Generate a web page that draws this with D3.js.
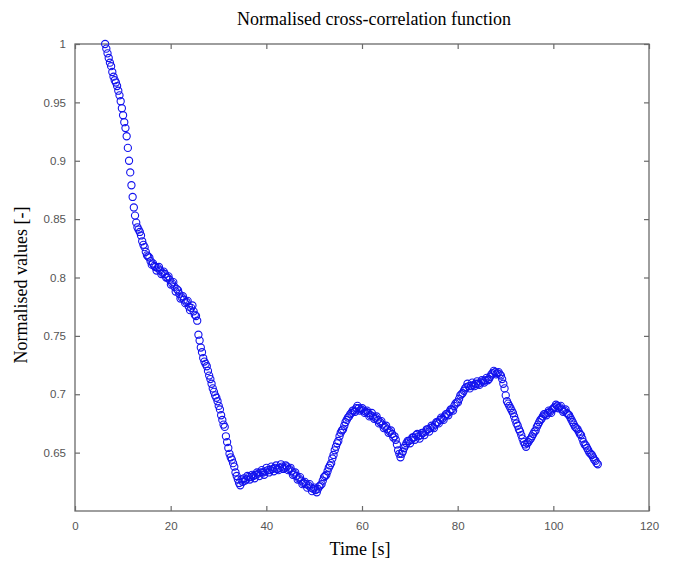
<!DOCTYPE html>
<html>
<head>
<meta charset="utf-8">
<script src="https://cdn.jsdelivr.net/npm/d3@7"></script>
<style>
  html, body { margin: 0; padding: 0; background: #ffffff; }
  svg { display: block; }
</style>
</head>
<body>
<svg id="chart" width="673" height="563"></svg>
<script>
// ---- data ----
const titleText = "Normalised cross-correlation function";
const xLabel = "Time [s]";
const yLabel = "Normalised values [-]";
const xTicks = [0, 20, 40, 60, 80, 100, 120];
const yTicks = [0.65, 0.7, 0.75, 0.8, 0.85, 0.9, 0.95, 1];

const times = [
  6.3, 6.8, 7.3, 7.8, 8.3, 8.8, 9.3, 9.8, 10.3, 10.8,
  11.3, 11.8, 12.3, 12.8, 13.3, 13.8, 14.3, 14.8, 15.3, 15.8,
  16.3, 16.8, 17.3, 17.8, 18.3, 18.8, 19.3, 19.8, 20.3, 20.8,
  21.3, 21.8, 22.3, 22.8, 23.3, 23.8, 24.3, 24.8, 25.3, 25.8,
  26.3, 26.8, 27.3, 27.8, 28.3, 28.8, 29.3, 29.8, 30.3, 30.8,
  31.3, 31.8, 32.3, 32.8, 33.3, 33.8, 34.3, 34.8, 35.3, 35.8,
  36.3, 36.8, 37.3, 37.8, 38.3, 38.8, 39.3, 39.8, 40.3, 40.8,
  41.3, 41.8, 42.3, 42.8, 43.3, 43.8, 44.3, 44.8, 45.3, 45.8,
  46.3, 46.8, 47.3, 47.8, 48.3, 48.8, 49.3, 49.8, 50.3, 50.8,
  51.3, 51.8, 52.3, 52.8, 53.3, 53.8, 54.3, 54.8, 55.3, 55.8,
  56.3, 56.8, 57.3, 57.8, 58.3, 58.8, 59.3, 59.8, 60.3, 60.8,
  61.3, 61.8, 62.3, 62.8, 63.3, 63.8, 64.3, 64.8, 65.3, 65.8,
  66.3, 66.8, 67.3, 67.8, 68.3, 68.8, 69.3, 69.8, 70.3, 70.8,
  71.3, 71.8, 72.3, 72.8, 73.3, 73.8, 74.3, 74.8, 75.3, 75.8,
  76.3, 76.8, 77.3, 77.8, 78.3, 78.8, 79.3, 79.8, 80.3, 80.8,
  81.3, 81.8, 82.3, 82.8, 83.3, 83.8, 84.3, 84.8, 85.3, 85.8,
  86.3, 86.8, 87.3, 87.8, 88.3, 88.8, 89.3, 89.8, 90.3, 90.8,
  91.3, 91.8, 92.3, 92.8, 93.3, 93.8, 94.3, 94.8, 95.3, 95.8,
  96.3, 96.8, 97.3, 97.8, 98.3, 98.8, 99.3, 99.8, 100.3, 100.8,
  101.3, 101.8, 102.3, 102.8, 103.3, 103.8, 104.3, 104.8, 105.3, 105.8,
  106.3, 106.8, 107.3, 107.8, 108.3, 108.8, 109.3
];

const values = [
  1.000, 0.992, 0.984, 0.976, 0.969, 0.964, 0.956, 0.945, 0.933, 0.921,
  0.900, 0.879, 0.860, 0.847, 0.841, 0.836, 0.828, 0.822, 0.818, 0.814,
  0.812, 0.809, 0.808, 0.806, 0.804, 0.803, 0.800, 0.798, 0.795, 0.792,
  0.790, 0.786, 0.783, 0.781, 0.779, 0.775, 0.774, 0.771, 0.767, 0.751,
  0.740, 0.731, 0.726, 0.720, 0.713, 0.705, 0.699, 0.694, 0.687, 0.678,
  0.672, 0.659, 0.649, 0.644, 0.638, 0.630, 0.624, 0.627, 0.628, 0.627,
  0.629, 0.629, 0.630, 0.631, 0.632, 0.633, 0.633, 0.634, 0.635, 0.635,
  0.636, 0.637, 0.636, 0.637, 0.638, 0.637, 0.638, 0.636, 0.634, 0.632,
  0.630, 0.628, 0.626, 0.624, 0.623, 0.622, 0.620, 0.619, 0.618, 0.619,
  0.622, 0.626, 0.630, 0.634, 0.639, 0.645, 0.652, 0.658, 0.664, 0.669,
  0.673, 0.678, 0.681, 0.684, 0.686, 0.688, 0.688, 0.687, 0.686, 0.685,
  0.684, 0.682, 0.681, 0.680, 0.678, 0.676, 0.674, 0.672, 0.670, 0.668,
  0.666, 0.664, 0.657, 0.649, 0.649, 0.654, 0.658, 0.660, 0.661, 0.663,
  0.665, 0.664, 0.665, 0.667, 0.668, 0.670, 0.671, 0.672, 0.674, 0.676,
  0.678, 0.679, 0.681, 0.683, 0.685, 0.687, 0.690, 0.693, 0.696, 0.700,
  0.703, 0.706, 0.707, 0.707, 0.708, 0.709, 0.709, 0.710, 0.711, 0.712,
  0.712, 0.715, 0.718, 0.719, 0.718, 0.717, 0.713, 0.705, 0.694, 0.690,
  0.686, 0.681, 0.675, 0.670, 0.665, 0.659, 0.655, 0.659, 0.662, 0.666,
  0.669, 0.674, 0.678, 0.681, 0.683, 0.684, 0.685, 0.687, 0.689, 0.690,
  0.689, 0.687, 0.686, 0.684, 0.682, 0.678, 0.674, 0.671, 0.668, 0.665,
  0.659, 0.656, 0.652, 0.649, 0.646, 0.643, 0.640
];

// in-between samples (the band in the picture is two markers thick)
const times2 = [
  6.55, 7.05, 7.55, 8.05, 8.55, 9.05, 9.55, 10.05, 10.55, 11.05,
  11.55, 12.05, 12.55, 13.05, 13.55, 14.05, 14.55, 15.05, 15.55, 16.05,
  16.55, 17.05, 17.55, 18.05, 18.55, 19.05, 19.55, 20.05, 20.55, 21.05,
  21.55, 22.05, 22.55, 23.05, 23.55, 24.05, 24.55, 25.05, 25.55, 26.05,
  26.55, 27.05, 27.55, 28.05, 28.55, 29.05, 29.55, 30.05, 30.55, 31.05,
  31.55, 32.05, 32.55, 33.05, 33.55, 34.05, 34.55, 35.05, 35.55, 36.05,
  36.55, 37.05, 37.55, 38.05, 38.55, 39.05, 39.55, 40.05, 40.55, 41.05,
  41.55, 42.05, 42.55, 43.05, 43.55, 44.05, 44.55, 45.05, 45.55, 46.05,
  46.55, 47.05, 47.55, 48.05, 48.55, 49.05, 49.55, 50.05, 50.55, 51.05,
  51.55, 52.05, 52.55, 53.05, 53.55, 54.05, 54.55, 55.05, 55.55, 56.05,
  56.55, 57.05, 57.55, 58.05, 58.55, 59.05, 59.55, 60.05, 60.55, 61.05,
  61.55, 62.05, 62.55, 63.05, 63.55, 64.05, 64.55, 65.05, 65.55, 66.05,
  66.55, 67.05, 67.55, 68.05, 68.55, 69.05, 69.55, 70.05, 70.55, 71.05,
  71.55, 72.05, 72.55, 73.05, 73.55, 74.05, 74.55, 75.05, 75.55, 76.05,
  76.55, 77.05, 77.55, 78.05, 78.55, 79.05, 79.55, 80.05, 80.55, 81.05,
  81.55, 82.05, 82.55, 83.05, 83.55, 84.05, 84.55, 85.05, 85.55, 86.05,
  86.55, 87.05, 87.55, 88.05, 88.55, 89.05, 89.55, 90.05, 90.55, 91.05,
  91.55, 92.05, 92.55, 93.05, 93.55, 94.05, 94.55, 95.05, 95.55, 96.05,
  96.55, 97.05, 97.55, 98.05, 98.55, 99.05, 99.55, 100.05, 100.55, 101.05,
  101.55, 102.05, 102.55, 103.05, 103.55, 104.05, 104.55, 105.05, 105.55, 106.05,
  106.55, 107.05, 107.55, 108.05, 108.55, 109.05
];

const values2 = [
  0.996, 0.988, 0.981, 0.972, 0.967, 0.960, 0.951, 0.939, 0.928, 0.911,
  0.890, 0.869, 0.853, 0.843, 0.839, 0.831, 0.826, 0.819, 0.817, 0.811,
  0.810, 0.806, 0.809, 0.803, 0.805, 0.800, 0.801, 0.794, 0.796, 0.788,
  0.789, 0.782, 0.784, 0.778, 0.780, 0.772, 0.776, 0.768, 0.763, 0.746,
  0.736, 0.728, 0.724, 0.716, 0.709, 0.702, 0.697, 0.690, 0.682, 0.674,
  0.664, 0.654, 0.646, 0.641, 0.633, 0.627, 0.622, 0.625, 0.626, 0.630,
  0.627, 0.631, 0.628, 0.633, 0.630, 0.635, 0.631, 0.637, 0.633, 0.638,
  0.634, 0.639, 0.635, 0.640, 0.636, 0.639, 0.635, 0.637, 0.631, 0.633,
  0.627, 0.629, 0.623, 0.625, 0.620, 0.623, 0.617, 0.620, 0.616, 0.621,
  0.623, 0.629, 0.631, 0.637, 0.641, 0.648, 0.655, 0.660, 0.667, 0.670,
  0.676, 0.680, 0.683, 0.686, 0.685, 0.690, 0.686, 0.688, 0.684, 0.686,
  0.681, 0.684, 0.679, 0.681, 0.675, 0.677, 0.671, 0.673, 0.667, 0.669,
  0.663, 0.661, 0.652, 0.646, 0.651, 0.656, 0.660, 0.658, 0.663, 0.661,
  0.666, 0.662, 0.667, 0.665, 0.670, 0.668, 0.673, 0.671, 0.676, 0.675,
  0.680, 0.678, 0.683, 0.682, 0.687, 0.686, 0.692, 0.693, 0.699, 0.701,
  0.705, 0.709, 0.705, 0.710, 0.707, 0.711, 0.708, 0.712, 0.710, 0.714,
  0.713, 0.717, 0.720, 0.717, 0.719, 0.716, 0.709, 0.699, 0.692, 0.688,
  0.684, 0.678, 0.673, 0.668, 0.662, 0.657, 0.658, 0.661, 0.664, 0.668,
  0.672, 0.676, 0.679, 0.683, 0.682, 0.686, 0.684, 0.688, 0.691, 0.688,
  0.690, 0.685, 0.687, 0.683, 0.680, 0.676, 0.672, 0.670, 0.666, 0.662,
  0.657, 0.654, 0.650, 0.648, 0.644, 0.641
];

// ---- layout ----
const margin = { left: 75, right: 24, top: 44, bottom: 52 };
const W = 673, H = 563;
const svg = d3.select("#chart");

const x = d3.scaleLinear().domain([0, 120]).range([margin.left, W - margin.right]);
const y = d3.scaleLinear().domain([0.6, 1]).range([H - margin.bottom, margin.top]);

const axisColor = "#6a6a6a";
const labelColor = "#555555";
const tickFont = "Liberation Sans, Arial, sans-serif";

// frame
svg.append("rect")
  .attr("x", x(0)).attr("y", y(1))
  .attr("width", x(120) - x(0)).attr("height", y(0.6) - y(1))
  .attr("fill", "none").attr("stroke", axisColor).attr("stroke-width", 1.3);

function styleAxis(g, showLabels) {
  g.select(".domain").remove();
  g.selectAll(".tick line").attr("stroke", axisColor).attr("stroke-width", 1.2);
  g.selectAll(".tick text")
    .attr("fill", labelColor)
    .style("font-family", tickFont)
    .style("font-size", "11.5px");
  if (!showLabels) g.selectAll(".tick text").remove();
}

// bottom axis (ticks inward)
svg.append("g")
  .attr("transform", `translate(0,${y(0.6)})`)
  .call(d3.axisBottom(x).tickValues(xTicks).tickFormat(d3.format("d")).tickSizeInner(-5).tickSizeOuter(0).tickPadding(11))
  .call(g => styleAxis(g, true));

// top axis
svg.append("g")
  .attr("transform", `translate(0,${y(1)})`)
  .call(d3.axisTop(x).tickValues(xTicks).tickSizeInner(-5).tickSizeOuter(0))
  .call(g => styleAxis(g, false));

// left axis
svg.append("g")
  .attr("transform", `translate(${x(0)},0)`)
  .call(d3.axisLeft(y).tickValues(yTicks).tickFormat(d => d3.format("")(+d.toFixed(2))).tickSizeInner(-5).tickSizeOuter(0).tickPadding(9))
  .call(g => styleAxis(g, true));

// right axis
svg.append("g")
  .attr("transform", `translate(${x(120)},0)`)
  .call(d3.axisRight(y).tickValues(yTicks).tickSizeInner(-5).tickSizeOuter(0))
  .call(g => styleAxis(g, false));

// data markers
const data = times.map((t, i) => ({ t, v: values[i] }))
  .concat(times2.map((t, i) => ({ t, v: values2[i] })))
  .filter(d => d.v !== undefined)
  .sort((a, b) => a.t - b.t);
svg.append("g")
  .selectAll("circle")
  .data(data)
  .join("circle")
  .attr("cx", d => x(d.t))
  .attr("cy", d => y(d.v))
  .attr("r", 3.6)
  .attr("fill", "none")
  .attr("stroke", "#1212ee")
  .attr("stroke-width", 1.1);

// title and labels
const serif = "Liberation Serif, Times New Roman, serif";
svg.append("text")
  .attr("x", 374).attr("y", 25)
  .attr("text-anchor", "middle")
  .style("font-family", serif).style("font-size", "18px").attr("fill", "#000")
  .text(titleText);

svg.append("text")
  .attr("x", 360).attr("y", 555)
  .attr("text-anchor", "middle")
  .style("font-family", serif).style("font-size", "18px").attr("fill", "#000")
  .text(xLabel);

svg.append("text")
  .attr("transform", `translate(27,285) rotate(-90)`)
  .attr("text-anchor", "middle")
  .style("font-family", serif).style("font-size", "18px").attr("fill", "#000")
  .text(yLabel);
</script>
</body>
</html>
